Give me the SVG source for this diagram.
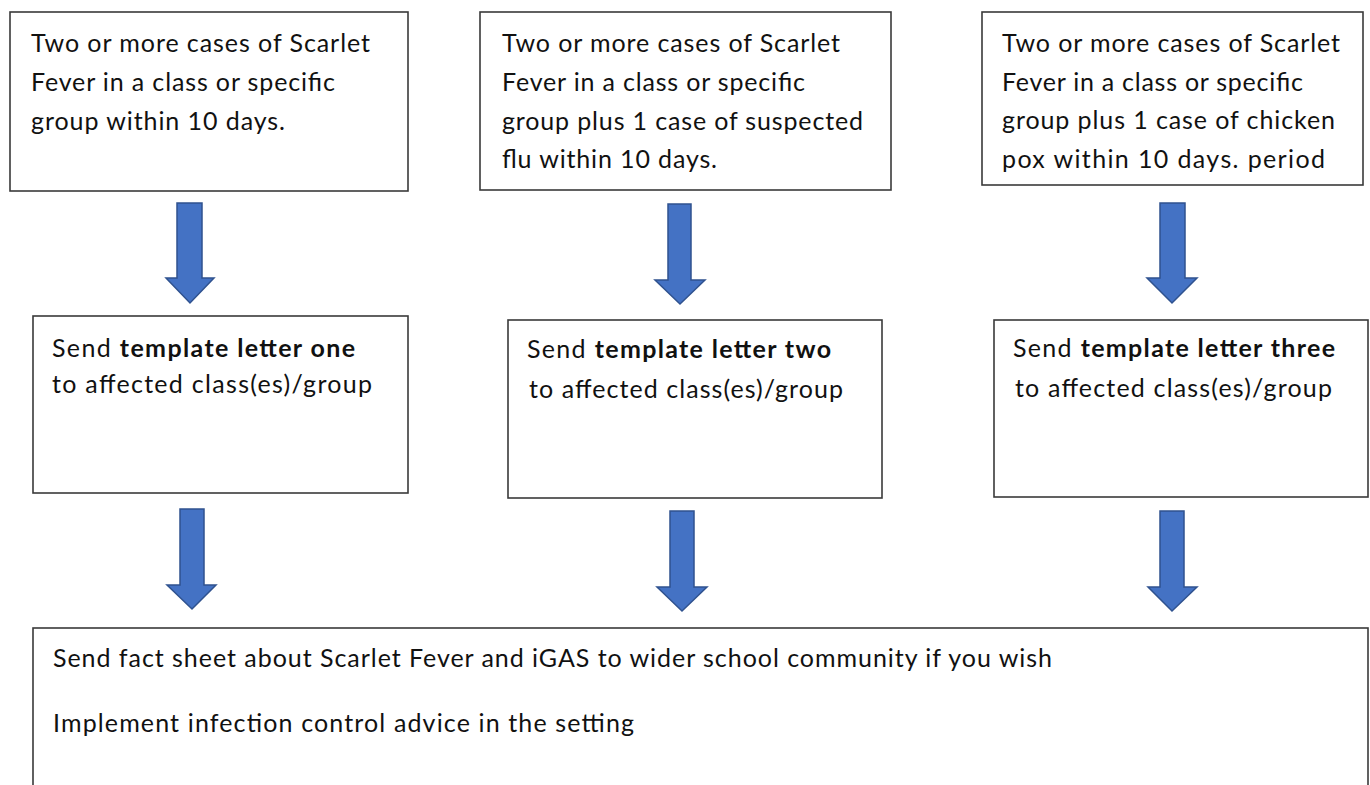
<svg xmlns="http://www.w3.org/2000/svg" width="1370" height="785" viewBox="0 0 1370 785">
<style>
.box{fill:#fff;stroke:#3a3a3a;stroke-width:1.6}
.t{font-family:Lato,"Liberation Sans",sans-serif;font-size:25px;fill:#111}
.b{font-weight:bold}
.arr{fill:#4472C4;stroke:#2F528F;stroke-width:1.5;stroke-linejoin:miter}
</style>
<rect width="1370" height="785" fill="#fff"/>
<g id="n1">
<rect class="box" x="10" y="12" width="398" height="179"/>
<text class="t" x="31" y="52" textLength="339">Two or more cases of Scarlet</text>
<text class="t" x="31" y="91" textLength="304">Fever in a class or specific</text>
<text class="t" x="31" y="130" textLength="254">group within 10 days.</text>
</g>
<g id="n2">
<rect class="box" x="480" y="12" width="411" height="178"/>
<text class="t" x="502" y="52" textLength="338">Two or more cases of Scarlet</text>
<text class="t" x="502" y="91" textLength="303">Fever in a class or specific</text>
<text class="t" x="502" y="130" textLength="361">group plus 1 case of suspected</text>
<text class="t" x="502" y="168" textLength="215">flu within 10 days.</text>
</g>
<g id="n3">
<rect class="box" x="982" y="12" width="381" height="173"/>
<text class="t" x="1002" y="52" textLength="338">Two or more cases of Scarlet</text>
<text class="t" x="1002" y="91" textLength="301">Fever in a class or specific</text>
<text class="t" x="1002" y="129" textLength="333">group plus 1 case of chicken</text>
<text class="t" x="1002" y="168" textLength="323">pox within 10 days. period</text>
</g>
<g id="n4">
<rect class="box" x="33" y="316" width="375" height="177"/>
<text class="t" x="52" y="357" textLength="303">Send <tspan class="b">template letter one</tspan></text>
<text class="t" x="52" y="393" textLength="320">to affected class(es)/group</text>
</g>
<g id="n5">
<rect class="box" x="508" y="320" width="374" height="178"/>
<text class="t" x="527" y="358" textLength="304">Send <tspan class="b">template letter two</tspan></text>
<text class="t" x="529" y="398" textLength="314">to affected class(es)/group</text>
</g>
<g id="n6">
<rect class="box" x="994" y="320" width="374" height="177"/>
<text class="t" x="1013" y="357" textLength="322">Send <tspan class="b">template letter three</tspan></text>
<text class="t" x="1015" y="397" textLength="317">to affected class(es)/group</text>
</g>
<g id="n7">
<rect class="box" x="33" y="628" width="1335" height="180"/>
<text class="t" x="53" y="667" textLength="999">Send fact sheet about Scarlet Fever and iGAS to wider school community if you wish</text>
<text class="t" x="53" y="732" textLength="581">Implement infection control advice in the setting</text>
</g>
<g id="connectors">
<path class="arr" d="M177,203 H202 V278 H214 L190,303 L166,278 H177 Z"/>
<path class="arr" d="M668,204 H691 V280 H705 L680,304 L655,280 H668 Z"/>
<path class="arr" d="M1160,203 H1185 V278 H1197 L1172,303 L1147,278 H1160 Z"/>
<path class="arr" d="M180,509 H204 V585 H216 L192,609 L167,585 H180 Z"/>
<path class="arr" d="M670,511 H694 V587 H707 L682,611 L657,587 H670 Z"/>
<path class="arr" d="M1160,511 H1184 V587 H1197 L1172,611 L1148,587 H1160 Z"/>
</g>
</svg>
